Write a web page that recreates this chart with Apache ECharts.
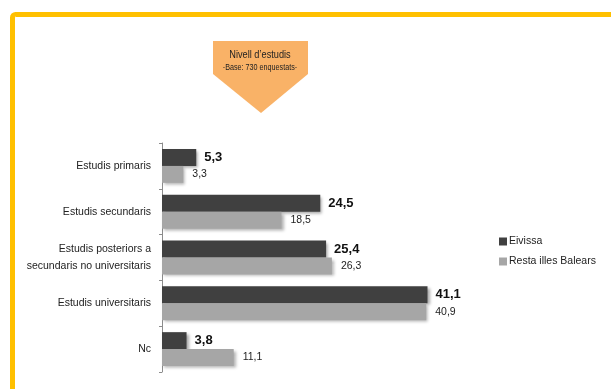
<!DOCTYPE html>
<html>
<head>
<meta charset="utf-8">
<script src="https://cdn.jsdelivr.net/npm/echarts@6/dist/echarts.min.js"></script>
<style>
  html, body { margin: 0; padding: 0; background: #ffffff; }
  #chart { width: 611px; height: 389px; }
</style>
</head>
<body>
<div id="chart"></div>
<script>
// Nivell d'estudis: Eivissa vs resta de les illes Balears (%)
const categories = [
  'Estudis primaris',
  'Estudis secundaris',
  'Estudis posteriors a\nsecundaris no universitaris',
  'Estudis universitaris',
  'Nc'
];
const eivissa = [5.3, 24.5, 25.4, 41.1, 3.8];
const restaBalears = [3.3, 18.5, 26.3, 40.9, 11.1];
const seriesNames = ['Eivissa', 'Resta illes Balears'];

const FONT = "'Liberation Sans', Arial, sans-serif";
const comma = v => String(v.value).replace('.', ',');

const chart = echarts.init(document.getElementById('chart'), null, { renderer: 'canvas' });

chart.setOption({
  animation: false,
  backgroundColor: '#ffffff',
  graphic: [
    {
      // yellow frame
      type: 'rect',
      shape: { x: 12.5, y: 14.5, width: 620, height: 400, r: 3 },
      style: { fill: 'none', stroke: '#FFC000', lineWidth: 5 },
      silent: true
    },
    {
      // heading arrow
      type: 'polygon',
      shape: { points: [[213, 41], [308, 41], [308, 74], [261, 113], [213, 74]] },
      style: { fill: '#F9B267' },
      silent: true
    },
    {
      type: 'text',
      x: 260, y: 55,
      scaleX: 0.8,
      style: {
        text: 'Nivell d’estudis', fill: '#222', font: "11.5px " + FONT,
        align: 'center', verticalAlign: 'middle'
      }
    },
    {
      type: 'text',
      x: 260, y: 68,
      scaleX: 0.8,
      style: {
        text: '-Base: 730 enquestats-', fill: '#222', font: "9px " + FONT,
        align: 'center', verticalAlign: 'middle'
      }
    }
  ],
  legend: {
    orient: 'vertical',
    left: 494,
    top: 231,
    itemWidth: 8,
    itemHeight: 8,
    itemGap: 9,
    icon: 'rect',
    textStyle: { fontFamily: FONT, fontSize: 10.5, color: '#222', padding: [0, 0, 0, -3] },
    data: seriesNames
  },
  grid: { left: 162, top: 143, height: 229, width: 323 },
  xAxis: {
    type: 'value',
    min: 0,
    max: 50,
    show: false
  },
  yAxis: {
    type: 'category',
    inverse: true,
    data: categories,
    axisLine: { show: true, lineStyle: { color: '#8c8c8c', width: 1 } },
    axisTick: { show: true, length: 3, lineStyle: { color: '#8c8c8c' } },
    axisLabel: {
      margin: 11,
      fontFamily: FONT,
      fontSize: 10.5,
      color: '#222',
      lineHeight: 17,
      align: 'right'
    }
  },
  series: [
    {
      name: seriesNames[0],
      type: 'bar',
      data: eivissa,
      barGap: '0%',
      barCategoryGap: '26%',
      itemStyle: {
        color: '#404040',
        shadowColor: 'rgba(0,0,0,0.35)',
        shadowBlur: 3,
        shadowOffsetX: 2,
        shadowOffsetY: 2
      },
      label: {
        show: true,
        position: 'right',
        distance: 8,
        formatter: comma,
        fontFamily: FONT,
        fontWeight: 'bold',
        fontSize: 13,
        color: '#111'
      }
    },
    {
      name: seriesNames[1],
      type: 'bar',
      data: restaBalears,
      barGap: '0%',
      barCategoryGap: '26%',
      itemStyle: {
        color: '#A6A6A6',
        shadowColor: 'rgba(0,0,0,0.3)',
        shadowBlur: 3,
        shadowOffsetX: 2,
        shadowOffsetY: 2
      },
      label: {
        show: true,
        position: 'right',
        distance: 9,
        formatter: comma,
        fontFamily: FONT,
        fontSize: 10.5,
        color: '#222'
      }
    }
  ]
});
</script>
</body>
</html>
